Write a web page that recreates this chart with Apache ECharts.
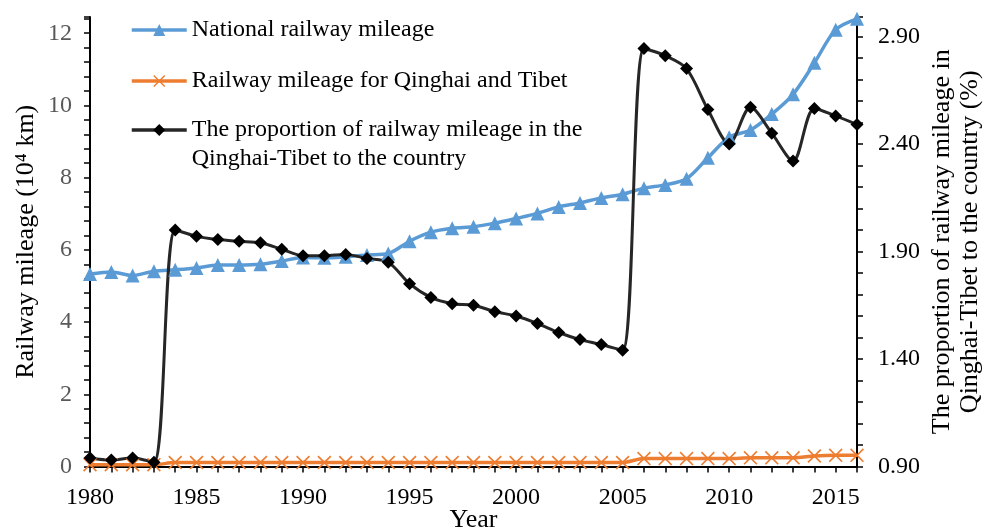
<!DOCTYPE html>
<html><head><meta charset="utf-8">
<script src="https://cdn.jsdelivr.net/npm/echarts@6/dist/echarts.min.js"></script>
<style>html,body{margin:0;padding:0;background:#fff}#c{width:985px;height:531px}</style>
</head><body><div id="c"></div>
<script>
const years = [];
for (let y = 1980; y <= 2016; y++) years.push(String(y));

const nationalMileage = [5.33,5.39,5.29,5.41,5.45,5.50,5.58,5.58,5.60,5.69,5.79,5.78,5.81,5.86,5.90,6.24,6.49,6.60,6.64,6.74,6.87,7.01,7.19,7.30,7.44,7.54,7.71,7.80,7.97,8.55,9.12,9.32,9.76,10.31,11.18,12.10,12.40];
const qtMileage = [0.05,0.05,0.05,0.05,0.11,0.11,0.11,0.11,0.11,0.11,0.11,0.11,0.11,0.11,0.11,0.11,0.11,0.11,0.11,0.11,0.11,0.11,0.11,0.11,0.11,0.11,0.22,0.22,0.22,0.22,0.22,0.24,0.24,0.24,0.29,0.31,0.31];
const proportion = [0.94,0.93,0.94,0.92,2.00,1.97,1.955,1.947,1.94,1.91,1.88,1.88,1.886,1.867,1.85,1.75,1.686,1.657,1.65,1.62,1.60,1.565,1.523,1.49,1.467,1.44,2.844,2.81,2.75,2.56,2.40,2.57,2.45,2.32,2.565,2.53,2.49];

const nameNational = 'National railway mileage';
const nameQT = 'Railway mileage for Qinghai and Tibet';
const nameProp = 'The proportion of railway mileage in the\nQinghai-Tibet to the country';

const FONT = '"Liberation Serif", "Times New Roman", serif';
const xPath = 'path://M1,0L6,5L11,0L12,1L7,6L12,11L11,12L6,7L1,12L0,11L5,6L0,1Z';

const chart = echarts.init(document.getElementById('c'), null, {renderer: 'canvas'});
const legendBase = {
  orient: 'vertical', left: 130, padding: 0, itemWidth: 55, itemHeight: 15,
  lineStyle: {width: 3.5},
  textStyle: {fontFamily: FONT, fontSize: 24, color: '#000', lineHeight: 29}
};
chart.setOption({
  animation: false,
  textStyle: {fontFamily: FONT},
  grid: {left: 90, right: 128, top: 17, bottom: 64.5, containLabel: false, outerBoundsMode: 'none'},
  legend: [
    Object.assign({}, legendBase, {top: 15.5, data: [nameNational]}),
    Object.assign({}, legendBase, {top: 66.5, data: [nameQT]}),
    Object.assign({}, legendBase, {top: 86.5, data: [nameProp], formatter: n => '\n' + n})
  ],
  xAxis: {
    type: 'category', data: years, boundaryGap: false,
    name: 'Year', nameLocation: 'middle', nameGap: 41, nameMoveOverlap: false,
    nameTextStyle: {fontFamily: FONT, fontSize: 26, color: '#000'},
    axisLine: {lineStyle: {color: '#000', width: 2}},
    axisTick: {show: true, interval: 0, length: 6, lineStyle: {color: '#000', width: 1.5}},
    axisLabel: {interval: 4, margin: 19, fontFamily: FONT, fontSize: 24, color: '#000'},
    splitLine: {show: false}
  },
  yAxis: [
    {
      type: 'value', min: 0, max: 12.45, interval: 2, position: 'left',
      name: 'Railway mileage (10\u2074 km)', nameLocation: 'middle', nameGap: 51, nameRotate: 90,
      nameMoveOverlap: false,
      nameTextStyle: {fontFamily: FONT, fontSize: 26, color: '#000'},
      axisLine: {show: true, lineStyle: {color: '#000', width: 2}},
      axisTick: {show: true, length: 6, lineStyle: {color: '#000', width: 1.5}},
      minorTick: {show: true, splitNumber: 5, length: 6, lineStyle: {color: '#000', width: 1.5}},
      axisLabel: {showMaxLabel: false, margin: 18, fontFamily: FONT, fontSize: 24, color: '#595959'},
      splitLine: {show: false}
    },
    {
      type: 'value', min: 0.9, max: 2.99, interval: 0.5, position: 'right',
      name: 'The proportion of railway mileage in\nQinghai-Tibet to the country (%)',
      nameLocation: 'middle', nameGap: 71, nameRotate: 90, nameMoveOverlap: false,
      nameTextStyle: {fontFamily: FONT, fontSize: 26, color: '#000', lineHeight: 28},
      axisLine: {show: true, lineStyle: {color: '#000', width: 2}},
      axisTick: {show: true, length: 6, lineStyle: {color: '#000', width: 1.5}},
      minorTick: {show: true, splitNumber: 5, length: 6, lineStyle: {color: '#000', width: 1.5}},
      axisLabel: {showMaxLabel: false, margin: 21, fontFamily: FONT, fontSize: 24, color: '#000',
        formatter: v => Number(v).toFixed(2)},
      splitLine: {show: false}
    }
  ],
  series: [
    {
      name: nameNational, type: 'line', yAxisIndex: 0, data: nationalMileage,
      smooth: 0.3, symbol: 'triangle', symbolSize: 14, showAllSymbol: true,
      lineStyle: {color: '#5B9BD5', width: 3.5}, itemStyle: {color: '#5B9BD5'}
    },
    {
      name: nameQT, type: 'line', yAxisIndex: 0, data: qtMileage,
      smooth: 0.3, symbol: xPath, symbolSize: 14, showAllSymbol: true,
      lineStyle: {color: '#ED7D31', width: 3.5}, itemStyle: {color: '#ED7D31'}
    },
    {
      name: nameProp, type: 'line', yAxisIndex: 1, data: proportion,
      smooth: 0.3, symbol: 'diamond', symbolSize: 13, showAllSymbol: true,
      lineStyle: {color: '#262626', width: 3}, itemStyle: {color: '#000'}
    }
  ]
});
</script>
</body></html>
